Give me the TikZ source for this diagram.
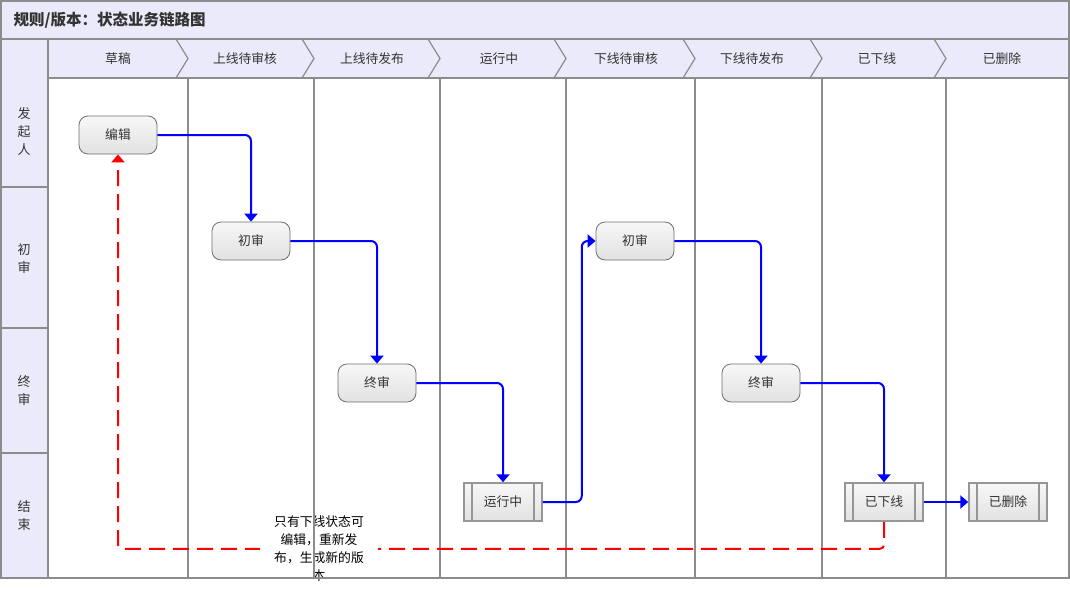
\documentclass[tikz,border=0pt]{standalone}
\usepackage{fontspec}
\setmainfont{Noto Sans CJK SC}
\usetikzlibrary{arrows.meta}
\definecolor{lane}{RGB}{234,234,250}
\definecolor{gridc}{RGB}{140,140,140}
\definecolor{nodeb}{RGB}{110,110,110}
\definecolor{procb}{RGB}{150,150,150}
\definecolor{ntop}{RGB}{247,247,247}
\definecolor{nbot}{RGB}{226,226,226}
\definecolor{textc}{RGB}{51,51,51}
\definecolor{flowblue}{RGB}{0,0,255}
\definecolor{backred}{RGB}{255,0,0}
\begin{document}
\begin{tikzpicture}[x=1pt,y=-1pt,
  gridline/.style={draw=gridc, line width=1.2pt},
  box/.style={draw=nodeb, line width=0.8pt, rounded corners=9pt, top color=ntop, bottom color=nbot,
    minimum width=78pt, minimum height=38pt, inner sep=0pt, text=textc, font=\fontsize{12.8}{15}\selectfont},
  procbox/.style={draw=procb, line width=1.5pt, top color=ntop, bottom color=nbot,
    minimum width=78pt, minimum height=38pt, inner sep=0pt, text=textc, font=\fontsize{12.8}{15}\selectfont,
    path picture={
      \draw[procb, line width=1.5pt] ([xshift=8pt]path picture bounding box.north west) -- ([xshift=8pt]path picture bounding box.south west);
      \draw[procb, line width=1.5pt] ([xshift=-8pt]path picture bounding box.north east) -- ([xshift=-8pt]path picture bounding box.south east);}},
  flow/.style={draw=flowblue, line width=2pt, rounded corners=6pt, -{Triangle[width=13pt,length=8pt]}},
  back/.style={draw=backred, line width=2pt, dash pattern=on 16pt off 8pt, rounded corners=4pt, -{Triangle[width=13pt,length=8pt]}},
  hdr/.style={text=textc, font=\fontsize{12.8}{15}\selectfont},
  lanelbl/.style={align=center, text=textc, font=\fontsize{13}{18}\selectfont},
  note/.style={align=center, text=black, font=\fontsize{12.8}{18}\selectfont, inner xsep=14pt, inner ysep=0pt}
]
\useasboundingbox (0,0) rectangle (1070,590);
% background bands
\fill[lane] (1,1) rectangle (1069,39);
\fill[lane] (48,39) rectangle (1069,78);
\fill[lane] (1,39) rectangle (48,578);
% grid lines
\draw[gridline] (1,1) rectangle (1069,578);
\draw[gridline] (1,39) -- (1069,39);
\draw[gridline] (48,78) -- (1069,78);
\draw[gridline] (48,39) -- (48,578);
\foreach \y in {187,328,453} \draw[gridline] (1,\y) -- (48,\y);
\foreach \x in {188,314,440,566,695,822,946} {
  \draw[gridline, line join=miter] (\x-12,39) -- (\x,58.5) -- (\x-12,78);
  \draw[gridline] (\x,78) -- (\x,578);
}
% title
\node[anchor=west, text=textc, font=\bfseries\fontsize{15.5}{18}\selectfont] (title) at (10,20) {规则/版本：状态业务链路图};
% headers
\node[hdr] (h1) at (118,58.5) {草稿};
\node[hdr] (h2) at (245,58.5) {上线待审核};
\node[hdr] (h3) at (372,58.5) {上线待发布};
\node[hdr] (h4) at (499,58.5) {运行中};
\node[hdr] (h5) at (626,58.5) {下线待审核};
\node[hdr] (h6) at (752,58.5) {下线待发布};
\node[hdr] (h7) at (877,58.5) {已下线};
\node[hdr] (h8) at (1002,58.5) {已删除};
% lane labels
\node[lanelbl] (l1) at (24,132) {发\\起\\人};
\node[lanelbl] (l2) at (24,259) {初\\审};
\node[lanelbl] (l3) at (24,391) {终\\审};
\node[lanelbl] (l4) at (24,516) {结\\束};
% nodes
\node[box] (bianji) at (118,135) {编辑};
\node[box] (chushenA) at (251,241) {初审};
\node[box] (zhongshenA) at (377,383) {终审};
\node[procbox] (yunxing) at (503,502) {运行中};
\node[box] (chushenB) at (635,241) {初审};
\node[box] (zhongshenB) at (761,383) {终审};
\node[procbox] (yixiaxian) at (884,502) {已下线};
\node[procbox] (yishanchu) at (1008,502) {已删除};
% connectors
\draw[flow] (bianji.east) -| (chushenA.north);
\draw[flow] (chushenA.east) -| (zhongshenA.north);
\draw[flow] (zhongshenA.east) -| (yunxing.north);
\draw[flow] (yunxing.east) -- ++(39,0) |- (chushenB.west);
\draw[flow] (chushenB.east) -| (zhongshenB.north);
\draw[flow] (zhongshenB.east) -| (yixiaxian.north);
\draw[flow] (yixiaxian.east) -- (yishanchu.west);
\draw[back] (yixiaxian.south) -- ++(0,27) -| (bianji.south);
% label of the return connector
\node[note, fill=white] (notelbl) at (319,549) {只有下线状态可\\编辑，重新发\\布，生成新的版\\本};
\draw[gridline] (314,505) -- (314,578);
\draw[gridline] (240,578) -- (400,578);
\end{tikzpicture}
\end{document}
